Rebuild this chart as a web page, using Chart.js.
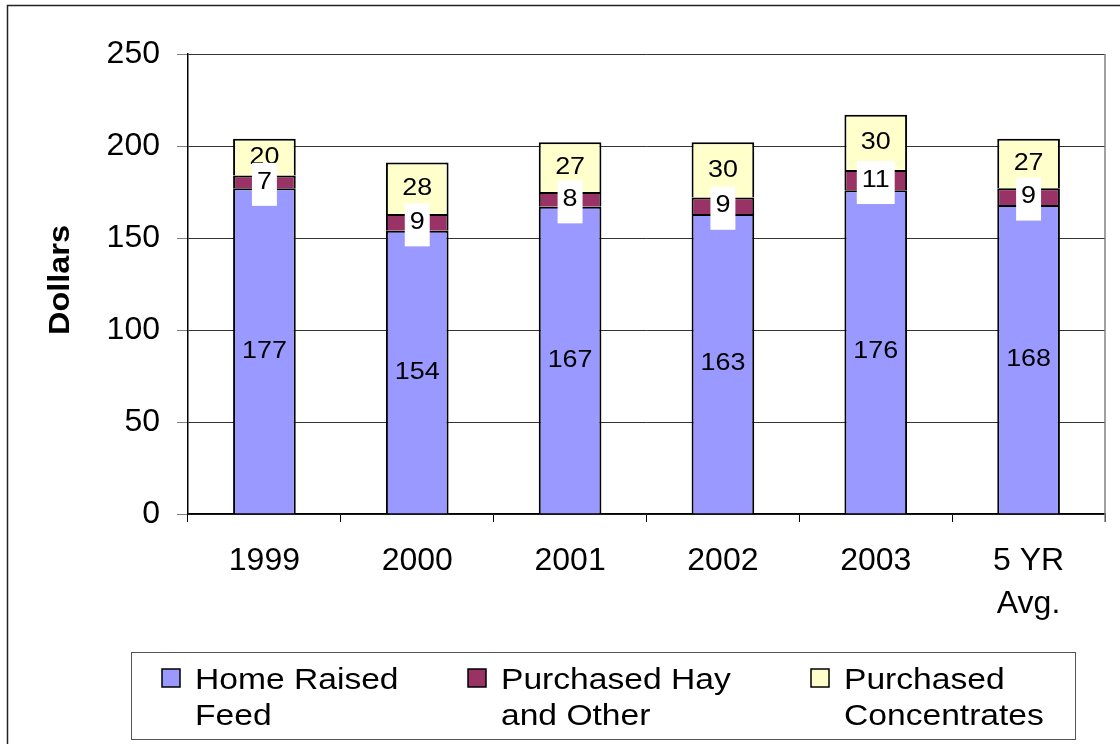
<!DOCTYPE html>
<html>
<head>
<meta charset="utf-8">
<script src="https://cdn.jsdelivr.net/npm/chart.js@4.4.0/dist/chart.umd.min.js"></script>
<style>
  html, body { margin: 0; padding: 0; background: #fff; }
  #wrap { width: 1120px; height: 744px; position: relative; }
</style>
</head>
<body>
<div id="wrap"><canvas id="myChart" width="1120" height="744"></canvas></div>
<script>
const categories = ['1999', '2000', '2001', '2002', '2003', ['5 YR', 'Avg.']];
const homeRaised = [177, 154, 167, 163, 176, 168];
const purchasedHay = [7, 9, 8, 9, 11, 9];
const purchasedConc = [20, 28, 27, 30, 30, 27];
const yTicks = [0, 50, 100, 150, 200, 250];

const FONT = '"Liberation Sans", Arial, sans-serif';
const STRETCH = 1.12; // the original text is a bit wide

function wideText(ctx, txt, x, y, align) {
  ctx.save();
  ctx.translate(x, y);
  ctx.scale(STRETCH, 1);
  ctx.textAlign = align || 'center';
  ctx.fillText(txt, 0, 0);
  ctx.restore();
}

// value labels + the odd white boxes behind the middle series
const barLabels = {
  id: 'barLabels',
  afterDatasetsDraw(chart) {
    const ctx = chart.ctx;
    ctx.save();
    ctx.font = '24px ' + FONT;
    ctx.textBaseline = 'middle';
    [0, 2, 1].forEach(i => {
      const meta = chart.getDatasetMeta(i);
      const vals = chart.data.datasets[i].data;
      meta.data.forEach((el, j) => {
        const txt = String(vals[j]);
        const y = (el.y + el.base) / 2;
        if (i === 1) {
          const w = ctx.measureText(txt).width * STRETCH;
          ctx.fillStyle = '#fff';
          ctx.fillRect(el.x - w / 2 - 5, y - 19, w + 10, 43);
        }
        ctx.fillStyle = '#000';
        wideText(ctx, txt, el.x, y);
      });
    });
    ctx.restore();
  }
};

// frame, right border, y title and the two-line legend
const decor = {
  id: 'decor',
  beforeDraw(chart) {
    const ctx = chart.ctx;
    ctx.save();
    ctx.fillStyle = '#fff';
    ctx.fillRect(0, 0, chart.width, chart.height);
    ctx.strokeStyle = '#222';
    ctx.lineWidth = 1.5;
    ctx.strokeRect(7.5, 5.5, 1200, 800);
    ctx.restore();
  },
  afterDraw(chart) {
    const ctx = chart.ctx;
    const a = chart.chartArea;
    ctx.save();
    ctx.strokeStyle = '#808080';
    ctx.lineWidth = 1.5;
    ctx.beginPath();
    ctx.moveTo(a.right, a.top);
    ctx.lineTo(a.right, a.bottom + 8);
    ctx.stroke();

    ctx.translate(61, 280);
    ctx.rotate(-Math.PI / 2);
    ctx.font = 'bold 29px ' + FONT;
    ctx.fillStyle = '#000';
    ctx.textBaseline = 'middle';
    wideText(ctx, 'Dollars', 0, 0);
    ctx.restore();

    ctx.save();
    ctx.strokeStyle = '#555';
    ctx.lineWidth = 1;
    ctx.strokeRect(131.5, 652.5, 944, 87);
    const items = [
      { x: 162, lines: ['Home Raised', 'Feed'] },
      { x: 468, lines: ['Purchased Hay', 'and Other'] },
      { x: 811, lines: ['Purchased', 'Concentrates'] }
    ];
    ctx.font = '30px ' + FONT;
    ctx.textBaseline = 'middle';
    items.forEach((it, k) => {
      const ds = chart.data.datasets[k];
      ctx.fillStyle = ds.backgroundColor;
      ctx.fillRect(it.x, 669, 18, 18);
      ctx.strokeStyle = '#000';
      ctx.lineWidth = 1.5;
      ctx.strokeRect(it.x, 669, 18, 18);
      ctx.fillStyle = '#000';
      wideText(ctx, it.lines[0], it.x + 33, 681, 'left');
      wideText(ctx, it.lines[1], it.x + 33, 717, 'left');
    });
    ctx.restore();
  }
};

const ctx = document.getElementById('myChart').getContext('2d');
new Chart(ctx, {
  type: 'bar',
  data: {
    labels: categories,
    datasets: [{
      label: 'Home Raised Feed',
      data: homeRaised,
      backgroundColor: '#9999FF',
      borderColor: '#000',
      borderWidth: 2
    }, {
      label: 'Purchased Hay and Other',
      data: purchasedHay,
      backgroundColor: '#993366',
      borderColor: '#000',
      borderWidth: 2
    }, {
      label: 'Purchased Concentrates',
      data: purchasedConc,
      backgroundColor: '#FFFFCC',
      borderColor: '#000',
      borderWidth: 2
    }]
  },
  options: {
    responsive: false,
    animation: false,
    layout: { padding: { left: 0, top: 54, right: 15, bottom: 100 } },
    datasets: { bar: { barPercentage: 0.41, categoryPercentage: 1 } },
    plugins: { legend: { display: false }, tooltip: { enabled: false } },
    scales: {
      x: {
        stacked: true,
        afterFit: s => { s.height = 130; },
        grid: { display: true, drawOnChartArea: false, offset: true, tickLength: 8, tickColor: '#000', color: '#000' },
        border: { color: '#000', width: 1.5 },
        ticks: { color: '#000', font: { family: FONT, size: 32, lineHeight: 1.34 }, padding: 18, maxRotation: 0, autoSkip: false }
      },
      y: {
        stacked: true,
        min: 0,
        max: 250,
        afterFit: s => { s.width = 188; },
        afterBuildTicks: s => { s.ticks = yTicks.map(v => ({ value: v })); },
        grid: { color: '#333', lineWidth: 1, tickLength: 11, tickColor: '#808080' },
        border: { color: '#000', width: 1.5 },
        ticks: { color: '#000', font: { family: FONT, size: 32 }, padding: 17 }
      }
    }
  },
  plugins: [decor, barLabels]
});
</script>
</body>
</html>
